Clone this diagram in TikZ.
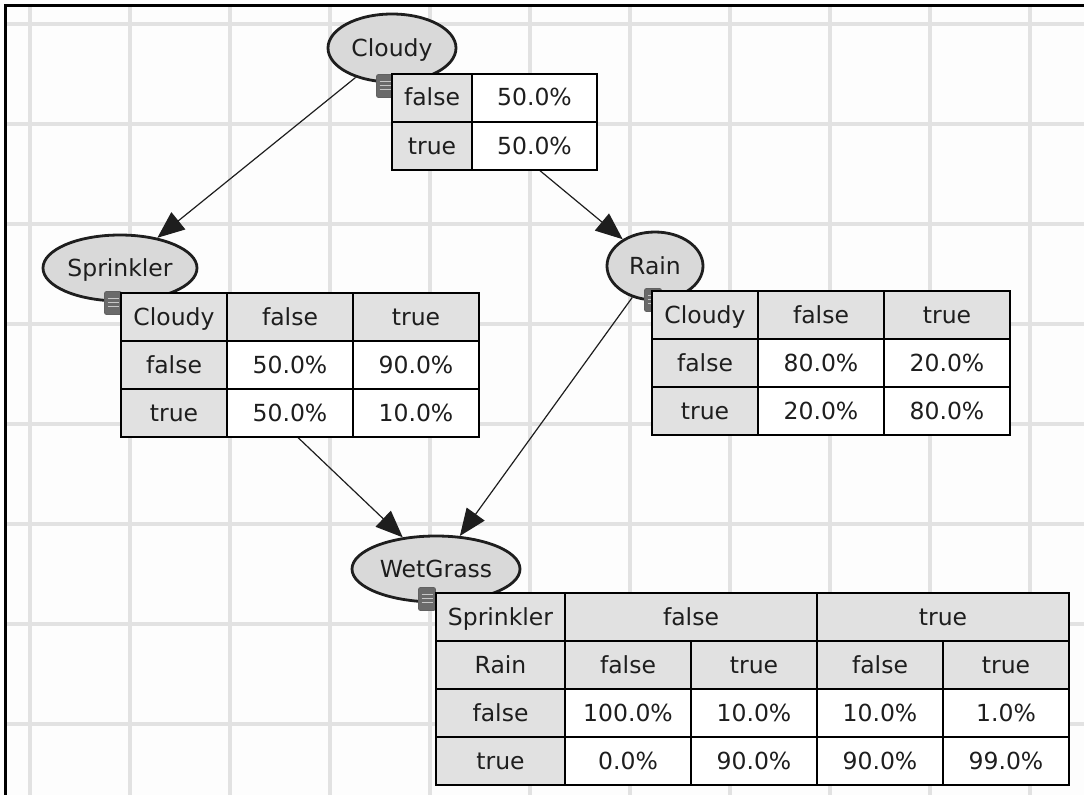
\documentclass[tikz,border=0pt]{standalone}
\usepackage{fontspec}
\setmainfont{DejaVu Sans}
\usetikzlibrary{arrows.meta,shapes.geometric}

\definecolor{gridgray}{HTML}{E2E2E2}
\definecolor{canvas}{HTML}{FDFDFD}
\definecolor{nodefill}{HTML}{D9D9D9}
\definecolor{hdrfill}{HTML}{E1E1E1}
\definecolor{ink}{HTML}{1E1E1E}
\definecolor{iconfill}{HTML}{6A6A6A}
\definecolor{iconline}{HTML}{C8C8C8}

% drawing order: grid, then connectors, then nodes and tables
\pgfdeclarelayer{gridlayer}
\pgfdeclarelayer{edgelayer}
\pgfsetlayers{gridlayer,edgelayer,main}

% one table cell: name, left, top, width, height, style, text
\newcommand{\cptcell}[7]{%
  \node[#6, minimum width=#4bp, minimum height=#5bp] (#1) at ({#2+#4/2},{#3+#5/2}) {#7};}

\tikzset{
  labelfont/.style={font=\fontsize{23.5bp}{28bp}\selectfont},
  cell/.style={rectangle, draw=black, line width=1.5bp, inner sep=0pt, text=ink,
               labelfont, text height=17bp, text depth=1bp},
  hdr/.style={cell, fill=hdrfill},
  val/.style={cell, fill=white},
  var/.style={ellipse, draw=ink, line width=2.8bp, fill=nodefill, inner sep=0pt,
              text=ink, labelfont, text height=17bp, text depth=-3bp},
  conn/.style={draw=ink, line width=1.2bp, -{Triangle[length=27bp,width=22bp]}},
  cptbtn/.style={rectangle, rounded corners=2bp, fill=iconfill, draw=ink!70,
                 line width=0.8bp, minimum width=17bp, minimum height=23bp, inner sep=0pt,
                 path picture={
                   \foreach \dy in {7,11,15}
                     \draw[iconline, line width=1.3bp]
                       ([shift={(3,\dy)}]path picture bounding box.north west) -- ++(11,0);
                 }},
  gridline/.style={draw=gridgray, line width=3.5bp},
  frame/.style={draw=black, line width=2.2bp}
}

\begin{document}
\begin{tikzpicture}[x=1bp, y=-1bp]
  \useasboundingbox (0,0) rectangle (1084,795);

  \begin{pgfonlayer}{gridlayer}
    % canvas and background grid
    \fill[canvas] (0,0) rectangle (1084,795);
    \foreach \gx in {30,130,...,1030}
      \draw[gridline] (\gx,6) -- (\gx,795);
    \foreach \gy in {24,124,...,724}
      \draw[gridline] (6,\gy) -- (1084,\gy);
    % window edge
    \draw[frame] (5.5,795) -- (5.5,5.5) -- (1084,5.5);
  \end{pgfonlayer}

  % variables
  \node[var, minimum width=128bp, minimum height=68bp] (cloudy)    at (392,48)  {Cloudy};
  \node[var, minimum width=154bp, minimum height=66bp] (sprinkler) at (120,268) {Sprinkler};
  \node[var, minimum width=96bp,  minimum height=68bp] (rain)      at (655,266) {Rain};
  \node[var, minimum width=168bp, minimum height=66bp] (wetgrass)  at (436,569) {WetGrass};

  % dependencies
  \begin{pgfonlayer}{edgelayer}
    \draw[conn] (cloudy) -- (sprinkler);
    \draw[conn] (cloudy) -- (rain);
    \draw[conn] (sprinkler) -- (wetgrass);
    \draw[conn] (rain) -- (wetgrass);
  \end{pgfonlayer}

  % table buttons
  \node[cptbtn] (cloudybtn)    at (385,86)  {};
  \node[cptbtn] (sprinklerbtn) at (113,303) {};
  \node[cptbtn] (rainbtn)      at (653,300) {};
  \node[cptbtn] (wetgrassbtn)  at (427,599) {};

  % Cloudy table
  \cptcell{c11}{392}{74}{80}{48}{hdr}{false}
  \cptcell{c12}{472}{74}{125}{48}{val}{50.0\%}
  \cptcell{c21}{392}{122}{80}{48}{hdr}{true}
  \cptcell{c22}{472}{122}{125}{48}{val}{50.0\%}

  % Sprinkler table
  \cptcell{s01}{121}{293}{106}{48}{hdr}{Cloudy}
  \cptcell{s02}{227}{293}{126}{48}{hdr}{false}
  \cptcell{s03}{353}{293}{126}{48}{hdr}{true}
  \cptcell{s11}{121}{341}{106}{48}{hdr}{false}
  \cptcell{s12}{227}{341}{126}{48}{val}{50.0\%}
  \cptcell{s13}{353}{341}{126}{48}{val}{90.0\%}
  \cptcell{s21}{121}{389}{106}{48}{hdr}{true}
  \cptcell{s22}{227}{389}{126}{48}{val}{50.0\%}
  \cptcell{s23}{353}{389}{126}{48}{val}{10.0\%}

  % Rain table
  \cptcell{r01}{652}{291}{106}{48}{hdr}{Cloudy}
  \cptcell{r02}{758}{291}{126}{48}{hdr}{false}
  \cptcell{r03}{884}{291}{126}{48}{hdr}{true}
  \cptcell{r11}{652}{339}{106}{48}{hdr}{false}
  \cptcell{r12}{758}{339}{126}{48}{val}{80.0\%}
  \cptcell{r13}{884}{339}{126}{48}{val}{20.0\%}
  \cptcell{r21}{652}{387}{106}{48}{hdr}{true}
  \cptcell{r22}{758}{387}{126}{48}{val}{20.0\%}
  \cptcell{r23}{884}{387}{126}{48}{val}{80.0\%}

  % WetGrass table
  \cptcell{w01}{436}{593}{129}{48}{hdr}{Sprinkler}
  \cptcell{w02}{565}{593}{252}{48}{hdr}{false}
  \cptcell{w03}{817}{593}{252}{48}{hdr}{true}
  \cptcell{w11}{436}{641}{129}{48}{hdr}{Rain}
  \cptcell{w12}{565}{641}{126}{48}{hdr}{false}
  \cptcell{w13}{691}{641}{126}{48}{hdr}{true}
  \cptcell{w14}{817}{641}{126}{48}{hdr}{false}
  \cptcell{w15}{943}{641}{126}{48}{hdr}{true}
  \cptcell{w21}{436}{689}{129}{48}{hdr}{false}
  \cptcell{w22}{565}{689}{126}{48}{val}{100.0\%}
  \cptcell{w23}{691}{689}{126}{48}{val}{10.0\%}
  \cptcell{w24}{817}{689}{126}{48}{val}{10.0\%}
  \cptcell{w25}{943}{689}{126}{48}{val}{1.0\%}
  \cptcell{w31}{436}{737}{129}{48}{hdr}{true}
  \cptcell{w32}{565}{737}{126}{48}{val}{0.0\%}
  \cptcell{w33}{691}{737}{126}{48}{val}{90.0\%}
  \cptcell{w34}{817}{737}{126}{48}{val}{90.0\%}
  \cptcell{w35}{943}{737}{126}{48}{val}{99.0\%}
\end{tikzpicture}
\end{document}
